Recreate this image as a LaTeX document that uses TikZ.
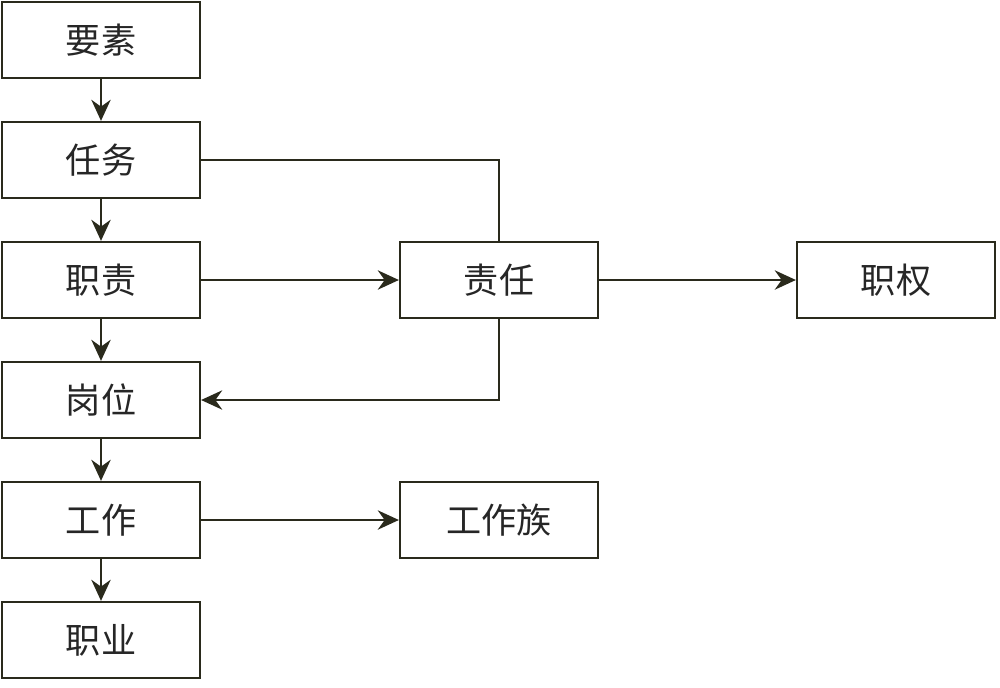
\documentclass[tikz,border=0pt]{standalone}
\usepackage{fontspec}
\newfontfamily\cjk{Noto Sans CJK SC}
\usetikzlibrary{arrows.meta}
\definecolor{linecol}{HTML}{2A2A1C}
\tikzset{
  box/.style={draw=linecol, line width=1.3pt, minimum width=3.96cm, minimum height=1.52cm,
    inner sep=0pt, font=\cjk\fontsize{20}{20}\selectfont, text=black!85},
  link/.style={draw=linecol, line width=1.3pt, -{Stealth[length=12pt,width=11pt]}}
}
\begin{document}
\begin{tikzpicture}[x=0.02cm, y=-0.02cm]
      \useasboundingbox (0,0) rectangle (1000,687);
      \draw
        (101,40) node[box] (yaosu){要素}
        (101,160) node[box] (renwu){任务}
        (101,280) node[box] (zhize){职责}
        (101,400) node[box] (gangwei){岗位}
        (101,520) node[box] (gongzuo){工作}
        (101,640) node[box] (zhiye){职业}
        (499,280) node[box] (zeren){责任}
        (499,520) node[box] (gzz){工作族}
        (896,280) node[box] (zhiquan){职权};
      \begin{scope}[link]
        \draw (yaosu) to (renwu);
        \draw (renwu) to (zhize);
        \draw (zhize) to (gangwei);
        \draw (gangwei) to (gongzuo);
        \draw (gongzuo) to (zhiye);
        \draw (zhize) to (zeren);
        \draw (zeren) to (zhiquan);
        \draw (gongzuo) to (gzz);
        \draw (zeren.south) |- (gangwei.east);
      \end{scope}
      \draw[link, -] (renwu.east) -| (zeren.north);
    \end{tikzpicture}
\end{document}
